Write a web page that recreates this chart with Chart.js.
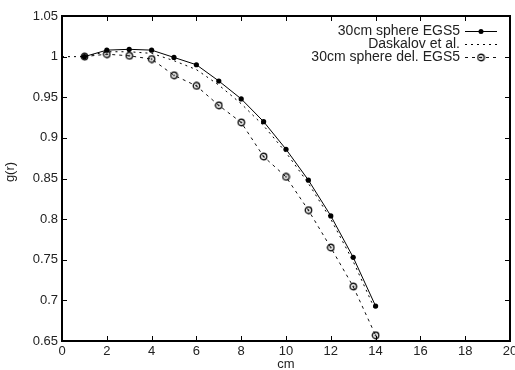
<!DOCTYPE html>
<html>
<head>
<meta charset="utf-8">
<script src="https://cdn.jsdelivr.net/npm/chart.js@4"></script>
<style>
  html, body { margin: 0; padding: 0; background: #fff; }
  #wrap { width: 515px; height: 370px; }
</style>
</head>
<body>
<div id="wrap"><canvas id="chart" width="515" height="370"></canvas></div>
<script>
  // distances (cm) and g(r) values
  const egsX = [1, 2, 3, 4, 5, 6, 7, 8, 9, 10, 11, 12, 13, 14];
  const egsY = [1.000, 1.008, 1.009, 1.008, 0.999, 0.990, 0.970, 0.948, 0.920, 0.886, 0.848, 0.804, 0.753, 0.693];

  const daskX = [0, 1, 2, 3, 4, 5, 6, 7, 8, 9, 10, 11, 12, 13, 14];
  const daskY = [1.000, 1.000, 1.006, 1.006, 1.004, 0.995, 0.984, 0.965, 0.942, 0.915, 0.882, 0.844, 0.800, 0.748, 0.687];

  const delX = [1, 2, 3, 4, 5, 6, 7, 8, 9, 10, 11, 12, 13, 14];
  const delY = [1.000, 1.003, 1.001, 0.997, 0.977, 0.964, 0.940, 0.919, 0.877, 0.852, 0.811, 0.765, 0.717, 0.657];

  const labels = ['30cm sphere EGS5', 'Daskalov et al.', '30cm sphere del. EGS5'];

  const font = '"Liberation Sans", Arial, Helvetica, sans-serif';
  const textColor = '#222';

  function toPoints(xs, ys) {
    return xs.map((x, i) => ({ x: x, y: ys[i] }));
  }

  // open circle with a dot in the middle
  function openCircle() {
    const c = document.createElement('canvas');
    c.width = 9; c.height = 9;
    const g = c.getContext('2d');
    g.strokeStyle = '#111';
    g.lineWidth = 1.4;
    g.beginPath(); g.arc(4.5, 4.5, 3.2, 0, Math.PI * 2); g.stroke();
    g.fillStyle = '#111';
    g.beginPath(); g.arc(4.5, 4.5, 1, 0, Math.PI * 2); g.fill();
    return c;
  }
  const delMarker = openCircle();

  const frame = {
    id: 'frame',
    afterDraw(chart) {
      const ctx = chart.ctx;
      const a = chart.chartArea;
      const xs = chart.scales.x, ys = chart.scales.y;
      ctx.save();
      ctx.strokeStyle = '#000';
      ctx.lineWidth = 1;
      ctx.beginPath();
      xs.ticks.forEach(t => {
        const px = Math.round(xs.getPixelForValue(t.value)) + 0.5;
        ctx.moveTo(px, a.bottom); ctx.lineTo(px, a.bottom - 5);
        ctx.moveTo(px, a.top); ctx.lineTo(px, a.top + 5);
      });
      ys.ticks.forEach(t => {
        const py = Math.round(ys.getPixelForValue(t.value)) + 0.5;
        ctx.moveTo(a.left, py); ctx.lineTo(a.left + 5, py);
        ctx.moveTo(a.right, py); ctx.lineTo(a.right - 5, py);
      });
      ctx.stroke();
      ctx.lineWidth = 2;
      ctx.strokeRect(a.left, a.top, a.right - a.left, a.bottom - a.top);

      // axis titles
      ctx.fillStyle = textColor;
      ctx.font = '13px ' + font;
      ctx.textAlign = 'center';
      ctx.textBaseline = 'middle';
      ctx.fillText('cm', (a.left + a.right) / 2, 364);
      ctx.translate(10, 172);
      ctx.rotate(-Math.PI / 2);
      ctx.fillText('g(r)', 0, 0);
      ctx.restore();

      // legend, top right inside the frame
      ctx.save();
      ctx.font = '14px ' + font;
      ctx.textAlign = 'right';
      ctx.textBaseline = 'middle';
      const rows = [31, 44, 57];
      chart.data.datasets.forEach((ds, i) => {
        const y = rows[i];
        ctx.fillStyle = textColor;
        ctx.fillText(ds.label, 460, y);
        ctx.strokeStyle = ds.borderColor;
        ctx.lineWidth = 1;
        ctx.setLineDash(ds.borderDash || []);
        ctx.beginPath();
        ctx.moveTo(465, y + 0.5); ctx.lineTo(497, y + 0.5);
        ctx.stroke();
        ctx.setLineDash([]);
        if (i === 0) {
          ctx.fillStyle = '#000';
          ctx.beginPath(); ctx.arc(481, y + 0.5, 2.5, 0, Math.PI * 2); ctx.fill();
        } else if (i === 2) {
          ctx.drawImage(delMarker, 481 - 4.5, y + 0.5 - 4.5);
        }
      });
      ctx.restore();
    }
  };

  new Chart(document.getElementById('chart'), {
    type: 'scatter',
    data: {
      datasets: [
        {
          label: labels[0],
          data: toPoints(egsX, egsY),
          showLine: true,
          borderColor: '#000',
          backgroundColor: '#000',
          borderWidth: 1,
          pointRadius: 2.6,
          pointBorderWidth: 0
        },
        {
          label: labels[1],
          data: toPoints(daskX, daskY),
          showLine: true,
          borderColor: '#000',
          borderWidth: 1,
          borderDash: [2, 4],
          pointRadius: 0
        },
        {
          label: labels[2],
          data: toPoints(delX, delY),
          showLine: true,
          borderColor: '#111',
          borderWidth: 1,
          borderDash: [3, 4],
          pointStyle: delMarker,
          pointRadius: 4
        }
      ]
    },
    options: {
      responsive: false,
      animation: false,
      layout: { padding: { left: 0, right: 4, top: 16, bottom: 0 } },
      plugins: {
        legend: { display: false },
        tooltip: { enabled: false }
      },
      scales: {
        x: {
          type: 'linear',
          min: 0,
          max: 20,
          grid: { display: false, drawTicks: false },
          border: { display: false },
          ticks: {
            stepSize: 2,
            padding: 3,
            color: textColor,
            maxRotation: 0,
            font: { family: font, size: 13 }
          },
          afterFit(s) {
            s.height = 29;
            s.paddingLeft = 0;
            s.paddingRight = 0;
          }
        },
        y: {
          min: 0.65,
          max: 1.05,
          grid: { display: false, drawTicks: false },
          border: { display: false },
          ticks: {
            stepSize: 0.05,
            padding: 4,
            color: textColor,
            font: { family: font, size: 13 },
            callback: v => String(+v.toFixed(2))
          },
          afterFit(s) {
            s.width = 62;
            s.paddingTop = 0;
            s.paddingBottom = 0;
          }
        }
      }
    },
    plugins: [frame]
  });
</script>
</body>
</html>
